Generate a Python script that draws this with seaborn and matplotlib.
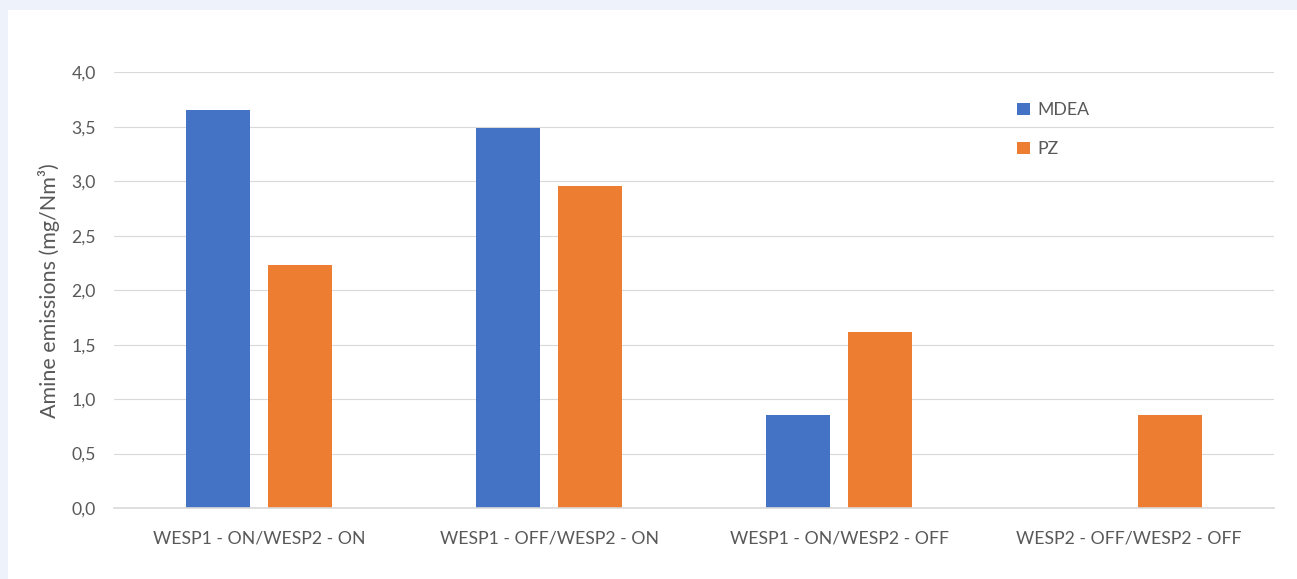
import matplotlib.patches as patches
import matplotlib.pyplot as plt
import pandas as pd
import seaborn as sns

categories = [
    "WESP1 - ON/WESP2 - ON",
    "WESP1 - OFF/WESP2 - ON",
    "WESP1 - ON/WESP2 - OFF",
    "WESP2 - OFF/WESP2 - OFF",
]
solvents = ["MDEA", "PZ"]
mdea = [3.66, 3.49, 0.85, float("nan")]
pz = [2.23, 2.96, 1.62, 0.85]
y_ticks = [0.0, 0.5, 1.0, 1.5, 2.0, 2.5, 3.0, 3.5, 4.0]

colors = {"MDEA": "#4472C4", "PZ": "#ED7D31"}
text_color = "#595959"
grid_color = "#D9D9D9"

df = pd.DataFrame(
    {
        "condition": categories * 2,
        "solvent": ["MDEA"] * len(mdea) + ["PZ"] * len(pz),
        "emission": mdea + pz,
    }
)

sns.set_theme(style="white")
plt.rcParams["font.family"] = ["Lato", "DejaVu Sans"]

fig = plt.figure(figsize=(12.97, 5.79), dpi=100, facecolor="#EEF2FB")
# white panel, leaving the thin light strip at top and left
fig.patches.append(
    patches.Rectangle(
        (8 / 1297, 0), 1, (579 - 10) / 579,
        transform=fig.transFigure, facecolor="white", edgecolor="none", zorder=-10,
    )
)
ax = fig.add_axes([114 / 1297, 71 / 579, 1160 / 1297, 435.5 / 579])
ax.set_facecolor("none")

sns.barplot(
    data=df,
    x="condition",
    y="emission",
    hue="solvent",
    hue_order=solvents,
    palette=colors,
    width=0.566,
    gap=0.22,
    linewidth=0,
    saturation=1,
    errorbar=None,
    ax=ax,
    zorder=3,
)

ax.set_xlim(-0.5, 3.5)
ax.set_ylim(0, 4)
ax.set_yticks(y_ticks)
ax.set_yticklabels([f"{v:.1f}".replace(".", ",") for v in y_ticks])
ax.yaxis.grid(True, color=grid_color, linewidth=0.8, zorder=0)
ax.set_axisbelow(True)
for side in ["top", "right", "left"]:
    ax.spines[side].set_visible(False)
ax.spines["bottom"].set_color(grid_color)
ax.spines["bottom"].set_linewidth(1.2)
ax.spines["bottom"].set_zorder(4)

ax.tick_params(axis="y", length=0, pad=13, labelsize=12.7, labelcolor=text_color)
ax.tick_params(axis="x", length=0, pad=16, labelsize=12.7, labelcolor=text_color)
ax.set_xlabel("")
ax.set_ylabel("Amine emissions (mg/Nm³)", fontsize=15.5, color=text_color, labelpad=8)

handles = [
    patches.Patch(facecolor=colors[s], edgecolor="none", label=s) for s in solvents
]
ax.legend(
    handles=handles,
    loc="upper left",
    bbox_to_anchor=(0.771, 0.952),
    frameon=False,
    borderpad=0,
    handlelength=0.72,
    handleheight=0.72,
    handletextpad=0.4,
    labelspacing=1.3,
    fontsize=12.7,
    labelcolor=text_color,
)

fig.savefig("out.png", dpi=100, facecolor=fig.get_facecolor())
